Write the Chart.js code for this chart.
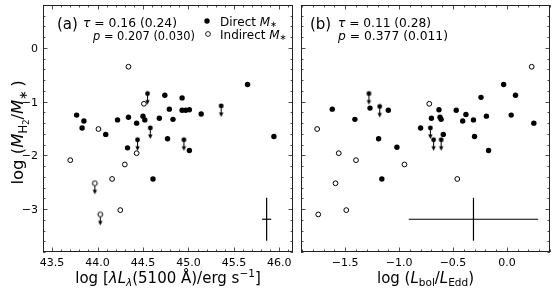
<!DOCTYPE html>
<html>
<head>
<meta charset="utf-8">
<script src="https://cdn.jsdelivr.net/npm/chart.js@4.4.1/dist/chart.umd.min.js"></script>
<style>
  body { margin: 0; background: #fff; }
  #wrap { position: relative; width: 555px; height: 291px; }
  .panel { position: absolute; top: 0; height: 291px; }
</style>
</head>
<body>
<div id="wrap">
  <div class="panel" style="left:0;width:298px"><canvas id="chartA"></canvas></div>
  <div class="panel" style="left:296px;width:259px"><canvas id="chartB"></canvas></div>
</div>
<script>
// panel (a): log lambda L_lambda(5100) vs log(MH2/M*)
const aDirect = [[43.77,-1.25],[43.85,-1.36],[43.83,-1.49],[44.09,-1.61],[44.22,-1.34],[44.34,-1.29],
  [44.33,-1.86],[44.43,-1.40],[44.50,-1.27],[44.52,-1.34],[44.68,-1.31],[44.74,-0.88],[44.79,-1.14],
  [44.77,-1.69],[44.83,-1.33],[44.93,-0.93],[44.93,-1.16],[44.97,-1.16],[45.01,-1.15],[45.01,-1.91],
  [45.14,-1.23],[45.65,-0.68],[45.94,-1.65],[44.61,-2.44]];
const aDirectLim = [[44.55,-0.85],[44.58,-1.49],[44.44,-1.71],[44.95,-1.71],[45.36,-1.08]];
const aIndirect = [[44.34,-0.35],[44.51,-1.04],[44.01,-1.51],[43.70,-2.09],[44.43,-1.96],[44.30,-2.17],
  [44.16,-2.44],[44.25,-3.02]];
const aIndirectLim = [[43.97,-2.52],[44.03,-3.10]];
const aErr = [45.86, -3.19, 0.05, 0.4]; // x, y, xerr, yerr

// panel (b): log(Lbol/LEdd) vs log(MH2/M*)
const bDirect = [[-1.62,-1.14],[-1.41,-1.33],[-1.27,-1.12],[-1.10,-1.16],[-1.19,-1.69],[-1.02,-1.85],
  [-1.16,-2.44],[-0.80,-1.49],[-0.70,-1.31],[-0.63,-1.15],[-0.62,-1.29],[-0.61,-1.33],[-0.59,-1.61],
  [-0.47,-1.16],[-0.41,-1.36],[-0.38,-1.24],[-0.31,-1.34],[-0.30,-1.65],[-0.24,-0.92],[-0.19,-1.27],
  [-0.17,-1.91],[-0.03,-0.68],[0.04,-1.25],[0.08,-0.88],[0.25,-1.40]];
const bDirectLim = [[-1.28,-0.85],[-1.18,-1.09],[-0.71,-1.49],[-0.68,-1.71],[-0.61,-1.71]];
const bIndirect = [[0.23,-0.35],[-0.72,-1.04],[-1.76,-1.51],[-1.56,-1.96],[-1.40,-2.09],[-0.95,-2.17],
  [-0.46,-2.44],[-1.49,-3.02],[-1.59,-2.52],[-1.75,-3.10]];
const bErr = [-0.31, -3.19, 0.6, 0.4];

const aRange = [43.40, 46.15];
const bRange = [-1.91, 0.40];
const yRange = [-3.80, 0.80];
const yTicks = [0, -1, -2, -3];

const FONT = "'DejaVu Sans', sans-serif";
const minus = v => String(v).replace('-', '\u2212');

// upper limit marker: dot with arrow pointing down
function limitMarker(filled) {
    const c = document.createElement('canvas');
    c.width = 9; c.height = 28;
    const g = c.getContext('2d');
    g.strokeStyle = '#000'; g.fillStyle = '#000'; g.lineWidth = 1;
    g.beginPath(); g.moveTo(4.5, 14); g.lineTo(4.5, 22); g.stroke();
    g.beginPath(); g.moveTo(4.5, 25); g.lineTo(2.3, 20.5); g.lineTo(6.7, 20.5); g.closePath(); g.fill();
    g.beginPath(); g.arc(4.5, 14, 2.4, 0, Math.PI * 2);
    if (filled) { g.fill(); } else { g.fillStyle = '#fff'; g.fill(); g.stroke(); }
    return c;
}

function pts(arr) { return arr.map(p => ({x: p[0], y: p[1]})); }

// mixed-style text (italic, subscripts); optional fit to a target width
function drawRich(ctx, parts, x, y, size, align, fitW) {
    const pieces = parts.map(([t, s]) => {
        let sc = 1, dy = 0, it = false;
        if (s === 'i') it = true;
        if (s === 's' || s === 'is') { sc = 0.7; dy = 0.22; it = s === 'is'; }
        if (s === 'ast') { sc = 0.7; dy = 0.05; }
        if (s === 'ss') { sc = 0.5; dy = 0.35; }
        if (s === 'sup') { sc = 0.7; dy = -0.4; }
        const font = (it ? 'italic ' : '') + (size * sc).toFixed(1) + 'px ' + FONT;
        ctx.font = font;
        return {t, font, dy: dy * size, w: ctx.measureText(t).width};
    });
    const total = pieces.reduce((s, p) => s + p.w, 0);
    ctx.save();
    ctx.translate(align === 'center' ? x - total / 2 : x, y);
    if (fitW) ctx.scale(fitW / total, 1);
    ctx.textAlign = 'left';
    ctx.textBaseline = 'alphabetic';
    let cx = 0;
    pieces.forEach(p => {
        ctx.font = p.font;
        ctx.fillText(p.t, cx, p.dy);
        cx += p.w;
    });
    ctx.restore();
}

const decor = {
    id: 'decor',
    afterDraw(chart, args, o) {
        const ctx = chart.ctx;
        const a = chart.chartArea;
        const xs = chart.scales.x, ys = chart.scales.y;
        ctx.save();
        ctx.strokeStyle = '#222';
        ctx.lineWidth = 1;
        ctx.strokeRect(a.left + 0.5, a.top + 0.5, a.right - a.left - 1, a.bottom - a.top - 1);
        ctx.lineWidth = 0.8;
        ctx.beginPath();
        for (let k = Math.ceil(xs.min * 10); k <= Math.floor(xs.max * 10); k++) {
            const px = Math.round(xs.getPixelForValue(k / 10)) + 0.5;
            const len = k % 5 === 0 ? 4.5 : 2.5;
            ctx.moveTo(px, a.bottom); ctx.lineTo(px, a.bottom - len);
            ctx.moveTo(px, a.top); ctx.lineTo(px, a.top + len);
        }
        for (let k = Math.ceil(ys.min * 5); k <= Math.floor(ys.max * 5); k++) {
            const py = Math.round(ys.getPixelForValue(k / 5)) + 0.5;
            const len = k % 5 === 0 ? 4.5 : 2.5;
            ctx.moveTo(a.left, py); ctx.lineTo(a.left + len, py);
            ctx.moveTo(a.right, py); ctx.lineTo(a.right - len, py);
        }
        ctx.stroke();

        ctx.fillStyle = '#000';
        if (o.ytitle) {
            ctx.font = '11px ' + FONT;
            ctx.textAlign = 'right';
            ctx.textBaseline = 'middle';
            yTicks.forEach(v => ctx.fillText(minus(v), a.left - 5, ys.getPixelForValue(v) + 1));
        }
        drawRich(ctx, [[o.tag, 'n']], o.tx, 29, 15);
        drawRich(ctx, [['τ', 'i'], [' = ' + o.tau, 'n']], o.sx, 27, 12, null, o.tauW);
        drawRich(ctx, [['p', 'i'], [' = ' + o.p, 'n']], o.sx + o.pdx, 40, 12, null, o.pW);
        drawRich(ctx, o.xtitle, (a.left + a.right) / 2, 283, 15, 'center');
        if (o.legend) {
            ctx.beginPath(); ctx.arc(207, 21, 2.7, 0, Math.PI * 2); ctx.fill();
            ctx.beginPath(); ctx.arc(208, 34, 2.4, 0, Math.PI * 2);
            ctx.fillStyle = '#fff'; ctx.fill(); ctx.lineWidth = 1; ctx.stroke();
            ctx.fillStyle = '#000';
            drawRich(ctx, [['Direct ', 'n'], ['M', 'i'], ['∗', 'ast']], 220, 26, 12);
            drawRich(ctx, [['Indirect ', 'n'], ['M', 'i'], ['∗', 'ast']], 220, 39, 12);
        }
        if (o.ytitle) {
            ctx.translate(23, (a.top + a.bottom) / 2 + 4);
            ctx.rotate(-Math.PI / 2);
            drawRich(ctx, o.ytitle, 0, 0, 16.5, 'center');
        }
        ctx.restore();
    }
};

function makeChart(id, d, range, pad, deco) {
    const black = '#000';
    const datasets = [
        {data: pts(d.direct), pointStyle: 'circle', pointRadius: 2.7, backgroundColor: black, borderColor: black, borderWidth: 0},
        {data: pts(d.directLim), pointStyle: limitMarker(true)},
        {data: pts(d.indirect), pointStyle: 'circle', pointRadius: 2.4, backgroundColor: '#fff', borderColor: black, borderWidth: 1},
        {data: pts(d.indirectLim), pointStyle: limitMarker(false)},
        {data: [{x: d.err[0] - d.err[2], y: d.err[1]}, {x: d.err[0] + d.err[2], y: d.err[1]}],
            showLine: true, pointRadius: 0, borderColor: black, borderWidth: 1.2},
        {data: [{x: d.err[0], y: d.err[1] - d.err[3]}, {x: d.err[0], y: d.err[1] + d.err[3]}],
            showLine: true, pointRadius: 0, borderColor: black, borderWidth: 1.2}
    ];
    return new Chart(document.getElementById(id), {
        type: 'scatter',
        data: {datasets},
        plugins: [decor],
        options: {
            responsive: true,
            maintainAspectRatio: false,
            animation: false,
            layout: {padding: pad},
            plugins: {legend: {display: false}, tooltip: {enabled: false}, decor: deco},
            scales: {
                x: {
                    min: range[0], max: range[1],
                    grid: {display: false, drawTicks: false},
                    border: {display: false},
                    afterFit: s => { s.height = 39; },
                    afterBuildTicks: s => {
                        const t = [];
                        for (let v = Math.ceil(s.min * 2) / 2; v <= s.max + 1e-9; v += 0.5) t.push({value: +v.toFixed(1)});
                        s.ticks = t;
                    },
                    ticks: {
                        autoSkip: false, maxRotation: 0, padding: 5, color: '#000',
                        font: {family: FONT, size: 11},
                        callback: v => minus(v.toFixed(1))
                    }
                },
                y: {
                    display: false,
                    min: yRange[0], max: yRange[1]
                }
            }
        }
    });
}

makeChart('chartA',
    {direct: aDirect, directLim: aDirectLim, indirect: aIndirect, indirectLim: aIndirectLim, err: aErr},
    aRange, {top: 4, right: 1, left: 43, bottom: 0},
    {tag: '(a)', tx: 57, sx: 83, pdx: 10, tau: '0.16 (0.24)', p: '0.207 (0.030)', tauW: 94, pW: 102, legend: true,
     xtitle: [['log [', 'n'], ['λL', 'i'], ['λ', 'is'], ['(5100 Å)/erg s', 'n'], ['−1', 'sup'], [']', 'n']],
     ytitle: [['log (', 'n'], ['M', 'i'], ['H', 's'], ['2', 'ss'], ['/', 'n'], ['M', 'i'], ['∗', 's'], ['\u2009)', 'n']]});

makeChart('chartB',
    {direct: bDirect, directLim: bDirectLim, indirect: bIndirect, indirectLim: [], err: bErr},
    bRange, {top: 4, right: 4, left: 1, bottom: 0},
    {tag: '(b)', tx: 14, sx: 42, pdx: 0, tau: '0.11 (0.28)', p: '0.377 (0.011)', tauW: 93, pW: 110, legend: false,
     xtitle: [['log (', 'n'], ['L', 'i'], ['bol', 's'], ['/', 'n'], ['L', 'i'], ['Edd', 's'], [')', 'n']]});
</script>
</body>
</html>
